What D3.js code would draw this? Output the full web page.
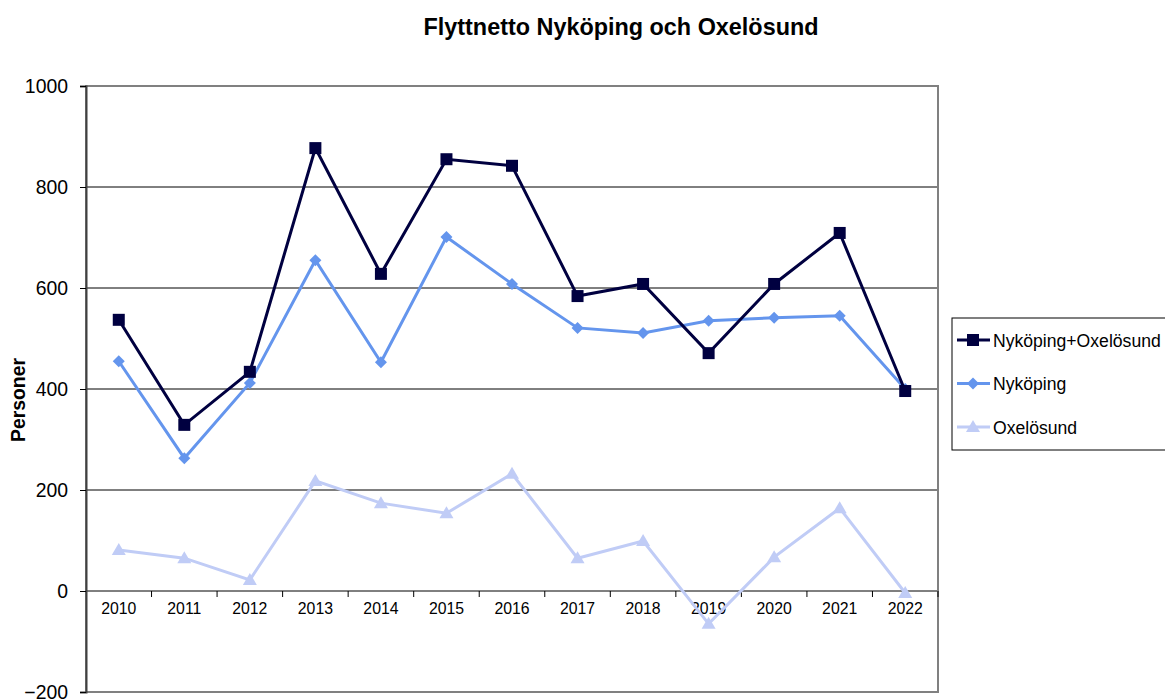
<!DOCTYPE html>
<html><head><meta charset="utf-8">
<script src="https://cdn.jsdelivr.net/npm/d3@7"></script>
<style>body{margin:0;background:#fff}svg{font-family:"Liberation Sans",Arial,sans-serif}</style>
</head><body><svg id="c" width="1165" height="700"></svg>
<script>
const years = ["2010","2011","2012","2013","2014","2015","2016","2017","2018","2019","2020","2021","2022"];
const total = [537,329,434,877,628,855,842,584,608,471,608,709,396];
const nykoping = [455,263,412,655,453,701,608,521,511,535,541,545,400];
const oxelosund = [81,65,22,218,174,154,232,65,99,-65,67,164,-4];
const yTicks = [-200,0,200,400,600,800,1000];
const seriesNames = ["Nyköping+Oxelösund","Nyköping","Oxelösund"];
const colors = ["#000040","#6495ED","#C0CCF6"];

const svg = d3.select("#c");
const L=86,R=938,T=86,B=692;
const x = d3.scaleBand().domain(years).range([L,R]);
const y = d3.scaleLinear().domain([-200,1000]).range([B,T]);

svg.append("text").attr("x",621).attr("y",35).attr("text-anchor","middle")
  .attr("font-size",23.4).attr("font-weight","bold").text("Flyttnetto Nyköping och Oxelösund");

// grid
svg.append("g").selectAll("line").data(yTicks.filter(d=>d!==-200)).join("line")
  .attr("x1",L).attr("x2",R).attr("y1",d=>y(d)).attr("y2",d=>y(d)).attr("stroke","#000").attr("stroke-width",1);
// border
svg.append("rect").attr("x",L).attr("y",T).attr("width",R-L).attr("height",B-T)
  .attr("fill","none").attr("stroke","#808080").attr("stroke-width",2);

// y axis
const ya = svg.append("g").attr("transform",`translate(${L},0)`)
  .call(d3.axisLeft(y).tickValues(yTicks).tickSize(6).tickPadding(12).tickFormat(d3.format("d")));
ya.select(".domain").attr("stroke","#404040").attr("stroke-width",2);
ya.selectAll("text").attr("font-size",19.4).attr("fill","#000").style("font-family","Liberation Sans");

// x axis at zero
const xa = svg.append("g").attr("transform",`translate(0,${y(0)})`)
  .call(d3.axisBottom(x).tickSize(0).tickPadding(12));
xa.select(".domain").remove();
xa.selectAll("text").attr("font-size",15.8).attr("fill","#000").style("font-family","Liberation Sans");
svg.append("g").selectAll("line").data(years.slice(1).concat(["end"])).join("line")
  .attr("x1",(d,i)=>L+x.step()*(i+1)).attr("x2",(d,i)=>L+x.step()*(i+1))
  .attr("y1",y(0)).attr("y2",y(0)+6).attr("stroke","#000");

svg.append("text").attr("transform",`translate(25,400) rotate(-90)`).attr("text-anchor","middle")
  .attr("font-size",19.4).attr("font-weight","bold").text("Personer");

const data=[total,nykoping,oxelosund];
const line = d3.line().x((d,i)=>x(years[i])+x.bandwidth()/2).y(d=>y(d));
data.slice().reverse().forEach((s,ri)=>{
  const k = 2-ri;
  svg.append("path").attr("d",line(s)).attr("fill","none").attr("stroke",colors[k]).attr("stroke-width",3);
  const g = svg.append("g");
  s.forEach((v,i)=>{
    const cx=x(years[i])+x.bandwidth()/2, cy=y(v);
    marker(g,k,cx,cy);
  });
});
function marker(g,k,cx,cy){
  if(k===0) g.append("rect").attr("x",cx-6).attr("y",cy-6).attr("width",12).attr("height",12).attr("fill",colors[0]);
  else if(k===1) g.append("path").attr("d",`M${cx},${cy-6}L${cx+6},${cy}L${cx},${cy+6}L${cx-6},${cy}Z`).attr("fill",colors[1]);
  else g.append("path").attr("d",`M${cx},${cy-7}L${cx+7},${cy+5}L${cx-7},${cy+5}Z`).attr("fill",colors[2]);
}

// legend
svg.append("rect").attr("x",952).attr("y",318).attr("width",220).attr("height",132).attr("fill","#fff").attr("stroke","#000");
seriesNames.forEach((n,k)=>{
  const ly=340+k*43.5;
  svg.append("line").attr("x1",957).attr("x2",990).attr("y1",ly).attr("y2",ly).attr("stroke",colors[k]).attr("stroke-width",3);
  marker(svg,k,973,ly);
  svg.append("text").attr("x",993).attr("y",ly+6.5).attr("font-size",17.6).text(n);
});
</script></body></html>
